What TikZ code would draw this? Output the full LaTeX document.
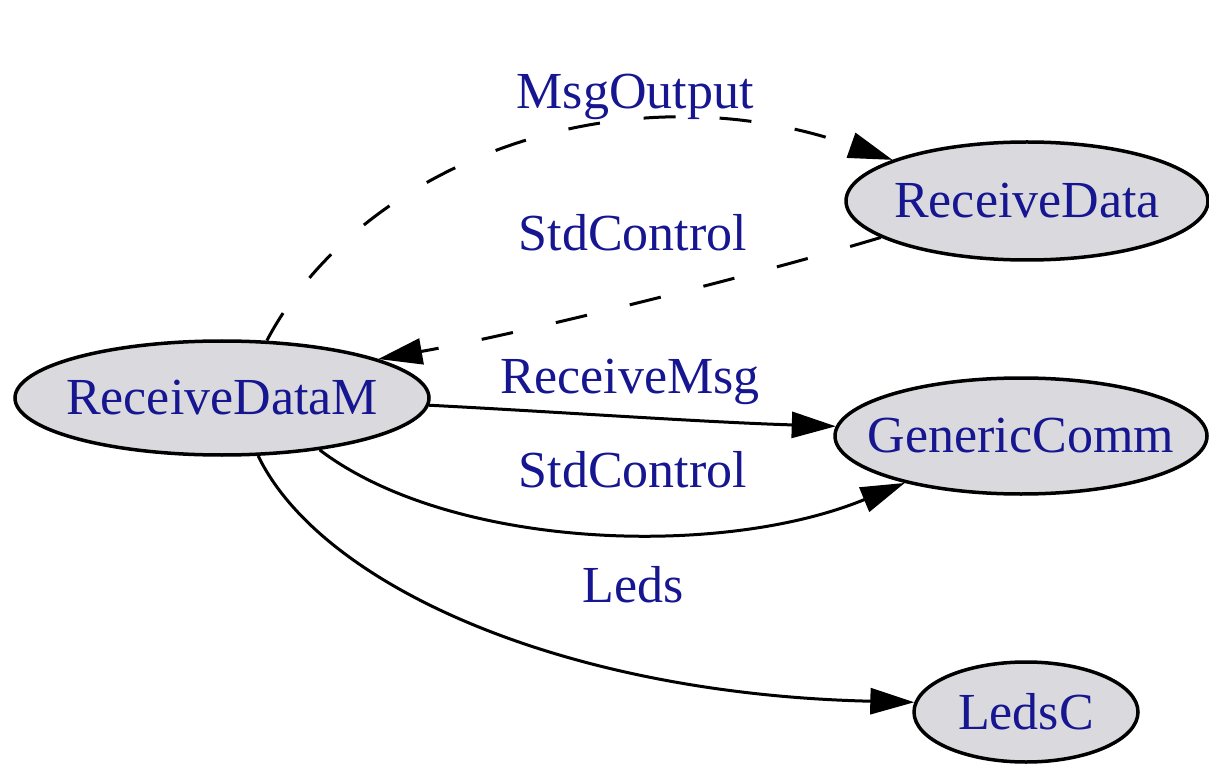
\documentclass[tikz,border=0pt]{standalone}
\usepackage{fontspec}
\setmainfont{Liberation Serif}
\usetikzlibrary{shapes.geometric,arrows.meta}
\definecolor{txtblue}{RGB}{22,22,145}
\definecolor{nodefill}{RGB}{218,218,222}
\tikzset{
  comp/.style={ellipse, draw=black, line width=3.5pt, fill=nodefill, inner sep=0pt},
  every label/.style={text=txtblue, font=\fontsize{52}{60}\selectfont, inner sep=0pt},
  elabel/.style={text=txtblue, font=\fontsize{52}{60}\selectfont, inner sep=0pt},
  wire/.style={line width=3pt, -{Triangle[length=44pt,width=26pt]}},
  dwire/.style={wire, dash pattern=on 32pt off 44pt},
}
\begin{document}
\begin{tikzpicture}[x=1pt,y=1pt]
\useasboundingbox (0,0) rectangle (1209,764);
\node[comp, minimum width=414pt, minimum height=114pt, label={center:ReceiveDataM}] (rdm) at (222,366) {};
\node[comp, minimum width=362pt, minimum height=118pt, label={center:ReceiveData}] (rd) at (1027,563) {};
\node[comp, minimum width=372pt, minimum height=116pt, label={center:GenericComm}] (gc) at (1021,328) {};
\node[comp, minimum width=224pt, minimum height=100pt, label={center:LedsC}] (lc) at (1026,52) {};

\draw[dwire] (rdm.52) .. controls (360,600) and (620,700) .. (rd.163);
\draw[dwire] (rd.194) .. controls (760,490) and (520,430) .. (rdm.14);
\draw[wire] (rdm.-2) .. controls (560,352) and (700,342) .. (gc.177);
\draw[wire] (rdm.-28) .. controls (450,215) and (720,205) .. (gc.202);
\draw[wire] (rdm.-58) .. controls (320,180) and (560,70) .. (lc.175);

\node[elabel] (l1) at (635,667) {MsgOutput};
\node[elabel] (l2) at (633,531) {StdControl};
\node[elabel] (l3) at (630,382) {ReceiveMsg};
\node[elabel] (l4) at (633,294) {StdControl};
\node[elabel] (l5) at (633,179) {Leds};
\end{tikzpicture}
\end{document}
